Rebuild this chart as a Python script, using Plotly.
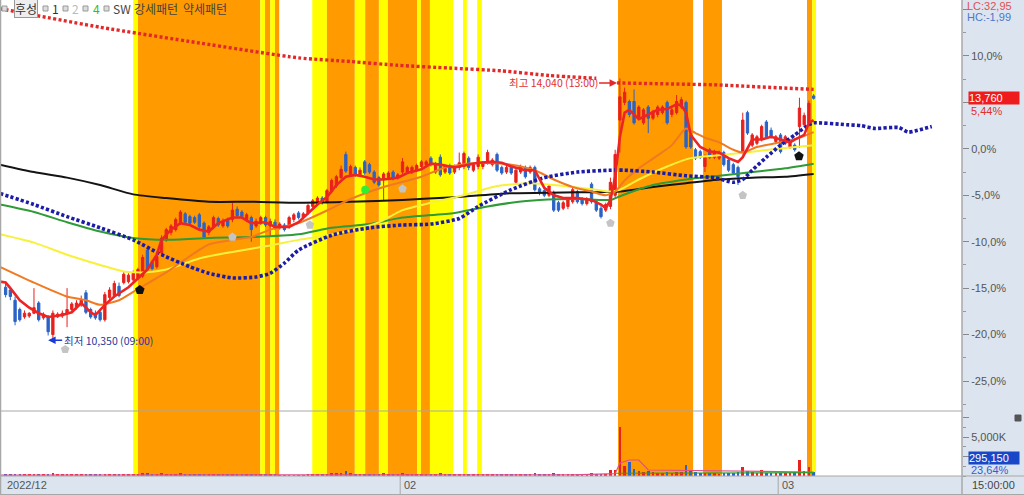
import plotly.graph_objects as go

# ---------------- data (values in % vs. reference price, 120-minute bars) ----------------
opens = [-14.9,-15.2,-16.3,-17.3,-18.1,-18.0,-17.7,-16.6,-18.2,-18.1,
 -20.0,-18.1,-18.0,-17.7,-17.3,-17.1,-16.8,-15.5,-17.3,-17.7,
 -17.6,-18.4,-16.0,-15.8,-14.8,-14.4,-14.3,-14.1,-13.9,-13.7,
 -10.9,-12.2,-12.7,-11.2,-9.8,-9.0,-8.7,-8.0,-7.0,-7.3,
 -7.4,-7.1,-8.0,-9.0,-8.4,-7.5,-8.3,-7.6,-7.6,-6.5,
 -6.8,-7.6,-7.4,-8.3,-8.0,-7.4,-8.3,-7.9,-8.5,-8.2,
 -8.4,-7.6,-6.9,-7.4,-6.9,-6.2,-5.9,-5.3,-5.7,-4.6,
 -4.0,-3.1,-0.6,-2.8,-2.0,-2.8,-1.4,-1.7,-2.5,-3.1,
 -3.3,-3.1,-2.5,-3.1,-2.5,-2.5,-2.5,-2.3,-1.9,-1.7,
 -1.0,-2.5,-0.9,-2.5,-1.8,-2.5,-2.0,-1.9,-1.0,-2.3,
 -1.9,-1.9,-1.5,-1.7,-0.6,-2.0,-2.5,-2.0,-3.6,-2.5,
 -2.0,-2.5,-2.0,-4.3,-4.5,-5.0,-4.7,-5.8,-6.4,-6.2,
 -5.7,-4.6,-5.4,-5.9,-3.8,-5.7,-6.4,-6.6,-6.2,-5.0,
 3.1,5.0,5.1,5.1,3.4,2.8,4.5,3.3,3.7,3.9,
 5.0,3.7,3.9,4.5,5.0,1.5,-0.1,-0.3,-1.9,-0.1,
 -0.9,-1.0,-0.4,-1.2,-1.7,-2.0,-0.4,3.9,0.4,0.6,
 1.0,2.9,2.0,0.8,1.5,0.6,0.2,0.4,2.4,2.6,
 2.8,5.7]
highs = [-14.4,-15.0,-15.9,-17.1,-17.4,-17.6,-15.0,-16.4,-17.6,-17.9,
 -17.4,-17.6,-17.4,-15.0,-16.5,-16.3,-15.8,-15.2,-17.1,-17.4,
 -17.3,-15.4,-14.9,-14.2,-14.4,-13.2,-13.4,-13.1,-12.8,-11.4,
 -10.7,-12.0,-11.4,-9.3,-8.5,-8.1,-7.4,-6.6,-6.8,-7.1,
 -7.2,-6.9,-7.8,-8.2,-7.2,-7.3,-7.5,-7.4,-5.8,-6.2,
 -6.6,-6.9,-7.2,-7.5,-7.2,-7.2,-7.5,-7.6,-7.9,-8.0,
 -7.2,-6.9,-6.7,-6.8,-5.9,-5.4,-5.1,-5.1,-4.3,-3.2,
 -2.8,-1.8,-0.3,-1.7,-1.8,-2.0,-1.2,-1.5,-2.3,-2.9,
 -2.5,-2.4,-2.3,-2.6,-1.0,-1.8,-1.8,-1.6,-1.2,-1.2,
 -0.8,-1.4,-0.6,-1.7,-1.6,-1.7,-0.4,-0.3,-0.8,-1.5,
 -0.6,-1.3,-0.1,-1.0,-0.4,-1.8,-1.8,-1.8,-2.0,-1.7,
 -1.8,-1.8,-1.8,-4.1,-4.3,-3.8,-4.5,-5.6,-5.6,-5.3,
 -4.2,-4.4,-5.2,-5.2,-3.6,-5.5,-6.1,-5.8,-3.1,-0.1,
 7.59,6.6,5.3,6.4,4.7,4.4,4.7,4.2,4.7,4.7,
 5.2,4.4,5.8,5.6,5.2,1.7,0.1,-0.1,-0.6,0.1,
 -0.1,-0.2,-0.2,-1.0,-1.5,-1.8,3.9,4.1,1.7,1.5,
 2.6,3.1,2.3,1.5,1.7,1.5,1.0,0.6,5.5,3.9,
 5.2,5.9]
lows = [-16.0,-16.3,-19.0,-18.6,-18.3,-18.2,-17.8,-18.6,-18.4,-20.1,
 -20.69,-18.2,-18.2,-19.2,-17.6,-17.3,-17.0,-17.8,-18.3,-18.4,
 -18.6,-18.6,-16.3,-16.0,-16.0,-14.6,-14.5,-14.3,-14.1,-13.9,
 -13.2,-13.1,-12.9,-11.4,-10.0,-9.3,-8.9,-8.2,-8.1,-8.2,
 -8.1,-8.6,-9.7,-9.3,-8.6,-8.4,-8.5,-8.5,-7.9,-7.4,
 -7.5,-7.9,-10.0,-8.5,-8.2,-8.4,-9.5,-8.7,-8.7,-8.9,
 -8.6,-7.9,-7.6,-7.6,-7.1,-6.5,-6.1,-6.0,-5.9,-4.8,
 -4.2,-3.3,-2.6,-3.0,-3.0,-3.0,-2.8,-2.7,-3.8,-4.1,
 -5.5,-3.3,-3.4,-3.3,-2.7,-2.7,-2.7,-2.5,-2.2,-1.9,
 -1.9,-2.7,-3.0,-2.7,-2.8,-2.7,-2.3,-2.2,-2.3,-2.5,
 -2.2,-2.2,-1.7,-1.9,-2.5,-2.8,-2.7,-2.8,-3.8,-2.7,
 -3.2,-2.7,-4.6,-5.0,-5.2,-5.2,-6.8,-6.8,-6.6,-6.5,
 -5.9,-5.9,-6.1,-6.1,-5.9,-6.8,-7.5,-6.8,-6.5,-5.3,
 -0.4,4.7,3.4,2.6,3.2,2.6,1.7,3.1,3.4,3.7,
 2.6,3.4,3.7,4.3,0.0,0.0,-1.2,-1.1,-2.5,-1.1,
 -1.1,-1.2,-1.9,-2.5,-2.8,-3.9,-0.6,1.5,0.2,0.4,
 0.8,1.1,1.1,0.5,-0.5,0.4,0.0,-0.3,0.1,2.4,
 2.6,5.3]
closes = [-15.7,-15.9,-18.6,-18.4,-17.7,-17.7,-17.1,-18.4,-17.8,-19.7,
 -17.7,-17.8,-17.7,-17.3,-16.7,-16.6,-16.3,-17.6,-18.1,-18.2,
 -18.4,-15.7,-15.2,-14.5,-15.8,-13.5,-13.6,-13.4,-13.0,-11.7,
 -13.0,-12.9,-11.6,-9.6,-8.7,-8.3,-7.6,-6.8,-7.9,-8.0,
 -7.9,-8.4,-9.5,-8.4,-7.4,-8.2,-7.8,-8.3,-6.6,-7.2,
 -7.3,-7.1,-8.7,-7.8,-7.4,-8.2,-7.8,-8.5,-8.1,-8.7,
 -7.4,-7.1,-7.4,-7.0,-6.1,-5.6,-5.3,-5.8,-4.5,-3.4,
 -3.0,-2.2,-2.4,-1.9,-2.8,-2.3,-2.6,-2.5,-3.6,-3.9,
 -2.7,-2.6,-3.2,-2.8,-1.4,-2.0,-2.0,-1.8,-1.4,-1.4,
 -1.7,-1.6,-2.8,-1.9,-2.6,-1.9,-1.5,-0.5,-2.0,-1.7,
 -0.9,-1.5,-0.4,-1.2,-2.3,-2.6,-2.0,-2.6,-2.3,-1.9,
 -3.0,-2.0,-4.4,-4.7,-5.0,-4.0,-6.6,-6.6,-5.8,-5.5,
 -4.4,-5.7,-5.9,-5.4,-5.7,-6.6,-7.3,-6.0,-3.6,-0.6,
 5.6,6.1,3.7,2.8,4.5,4.2,3.3,4.0,4.5,4.5,
 2.8,4.2,5.1,5.3,0.2,0.2,-1.0,-0.9,-0.9,-0.9,
 -0.3,-0.4,-1.7,-2.3,-2.6,-3.0,3.1,1.7,1.5,1.3,
 2.4,1.3,1.3,1.3,-0.3,1.3,0.8,-0.1,4.4,3.6,
 4.9,5.44]
volumes_k = [220,160,260,180,130,150,240,180,150,260,
 380,160,130,210,150,140,190,210,150,140,
 160,280,190,210,170,200,160,180,230,420,
 380,260,300,340,280,260,310,350,220,240,
 200,260,300,220,260,200,210,190,300,240,
 180,200,260,210,190,230,250,200,60,50,
 50,60,50,60,250,220,260,230,300,350,
 330,420,650,360,300,280,320,260,300,280,
 350,260,240,280,380,260,240,300,250,230,
 280,260,350,240,230,220,300,320,260,220,
 240,210,300,220,260,240,200,230,280,220,
 200,220,330,250,240,260,330,240,220,250,
 300,240,230,260,330,260,300,280,750,800,
 6300,1300,1800,900,600,500,700,450,400,380,
 500,420,550,480,1400,650,500,420,380,350,
 330,300,350,380,400,450,1150,700,450,380,
 770,420,380,350,400,380,420,450,2050,700,
 1150,500]

# moving averages / indicator lines (bar index, value in %)
ma_long_idx = [-1.2,6,13,20,27,34,43,52,62,73,84,95,106,118,130,137,144,151,158,165,171]
ma_long_val = [-1.7,-2.5,-3.1,-3.9,-4.9,-5.3,-5.7,-5.7,-5.8,-5.7,-5.5,-5.2,-4.8,-4.7,-4.6,-4.1,-3.7,-3.3,-3.1,-3.0,-2.7]
ma_green_idx = [-1.2,6,13,20,27,34,43,52,62,69,77,84,95,102,107,113,121,128,130,137,144,151,158,165,171]
ma_green_val = [-6.0,-6.8,-7.9,-8.9,-9.6,-9.8,-9.6,-9.5,-9.2,-8.5,-8.1,-7.4,-6.9,-6.2,-5.8,-5.5,-5.4,-5.5,-5.1,-3.9,-3.3,-2.9,-2.5,-2.1,-1.6]
ma_yellow_idx = [-1.2,6,13,20,25,30,34,41,48,56,62,67,73,79,84,90,97,104,111,118,125,128,130,134,140,145,151,158,165,171]
ma_yellow_val = [-9.2,-10.1,-11.4,-12.5,-13.2,-13.3,-13.0,-11.8,-11.1,-10.4,-9.8,-9.4,-8.8,-7.9,-6.6,-5.8,-5.0,-4.0,-3.7,-4.0,-4.4,-4.6,-4.4,-3.3,-1.9,-1.0,-0.7,-0.3,0.1,0.4]
ma_orange_idx = [-1.2,6,13,17,20,24,27,34,38,43,48,52,56,62,69,73,80,88,93,100,107,112,116,120,124,127,129,131,134,138,141,143,144,146,148,151,154,156,159,164,168,171]
ma_orange_val = [-12.7,-14.4,-15.9,-16.3,-16.8,-16.3,-15.4,-13.3,-11.9,-10.3,-9.8,-9.5,-8.7,-8.0,-6.4,-5.4,-4.1,-3.0,-2.0,-1.5,-1.7,-2.3,-3.3,-4.1,-4.6,-5.0,-4.6,-3.4,-2.1,-0.7,0.4,1.7,2.2,1.7,1.2,0.7,-0.1,-0.4,0.2,0.7,1.2,1.8]
ma_red_idx = [-1.2,0,1,3,5,7,9,12,14,16,18,19,21,23,26,28,30,32,33,35,37,39,41,43,45,48,50,52,55,57,60,62,64,66,68,70,72,74,76,78,80,83,85,88,90,92,95,98,100,103,105,107,110,112,113,114,116,118,121,124,126,127,128,129,130,131,132,134,136,138,140,142,143,144,145,147,149,151,153,155,156,157,158,160,162,164,166,167,169,170,171]
ma_red_val = [-14.3,-14.4,-15.0,-16.3,-17.1,-17.7,-18.1,-17.9,-17.6,-16.6,-17.6,-17.9,-16.8,-15.9,-14.9,-13.9,-13.0,-11.4,-9.8,-8.7,-8.0,-8.2,-8.7,-8.9,-8.0,-7.4,-7.4,-8.0,-7.9,-8.4,-8.4,-7.9,-6.9,-6.0,-5.2,-3.9,-3.0,-2.8,-3.0,-3.3,-3.3,-3.1,-2.6,-2.2,-1.6,-1.7,-2.0,-1.7,-1.5,-1.4,-1.5,-1.9,-2.3,-2.3,-3.3,-4.2,-5.0,-5.3,-5.3,-5.5,-6.0,-6.4,-5.5,-3.0,1.3,3.9,4.2,3.2,3.7,4.2,4.3,4.8,4.7,3.9,1.5,0.2,-0.3,-0.4,-1.0,-1.4,-0.9,0.1,1.0,1.0,1.3,1.0,0.7,1.0,1.5,2.8,3.1]
blue_dot_idx = [-1.2,6,13,20,27,33,39,43,48,53,56,59,62,69,77,84,90,96,100,107,114,121,128,131,137,144,150,154,156,158,161,164,167,170,171,178,181,184,189,191,193,196]
blue_dot_val = [-4.8,-6.0,-7.3,-8.5,-9.8,-11.4,-12.7,-13.4,-13.9,-13.8,-13.4,-12.3,-10.9,-9.3,-8.5,-8.2,-8.1,-7.5,-6.2,-4.4,-3.1,-2.5,-2.3,-2.3,-2.5,-2.9,-3.1,-3.6,-3.3,-2.3,-0.9,0.4,1.5,2.6,2.8,2.6,2.5,2.2,2.3,1.8,2.0,2.4]
red_dot_idx = [-1.2,20,41,62,73,83,94,105,115,125]
red_dot_val = [15.1,13.1,11.4,9.8,9.4,9.0,8.7,8.4,7.9,7.6]
high_line_idx = [129.4,150,171]
high_line_val = [7.1,6.9,6.4]

vol_ma_idx = [-1, 60, 120, 129, 130, 132, 134, 136, 171]
vol_ma_val = [120, 100, 150, 300, 1670, 2050, 2050, 770, 500]
vol_ma2_idx = [129, 171]
vol_ma2_val = [350, 420]

# signal markers
gray_sig_idx = [12.6, 48, 64.4, 84, 128, 156]
gray_sig_val = [-21.6, -9.5, -8.2, -4.3, -8.0, -5.0]
black_sig_idx = [28.4, 167.9]
black_sig_val = [-15.2, -0.8]
green_sig_idx = [76.1]
green_sig_val = [-4.4]

# background pattern bands (bar index ranges)
band_start = [27.0, 28.0, 53.9, 54.9, 56.0, 57.0, 64.9, 68.0, 73.9, 76.1, 79.0, 80.9, 87.1, 87.9, 89.8, 96.8, 99.8, 129.6, 147.6, 169.6, 170.7]
band_end = [28.0, 53.9, 54.9, 56.0, 57.0, 57.9, 68.0, 73.9, 76.1, 79.0, 80.9, 87.1, 87.9, 89.8, 94.7, 97.6, 100.8, 145.5, 151.6, 170.7, 171.5]
band_kind = ['Y','O','Y','O','Y','O','Y','O','Y','O','Y','O','Y','O','Y','Y','Y','O','O','O','Y']

month_start = [0, 84, 164]
month_label = ["2022/12", "02", "03"]

y_tick_vals = [15, 10, 5, 0, -5, -10, -15, -20, -25]
y_tick_text = ["", "10,0%", "", "0,0%", "-5,0%", "-10,0%", "-15,0%", "-20,0%", "-25,0%"]

low_label = "최저 10,350 (09:00)"
low_point = (9.0, -20.6)
high_label = "최고 14,040 (13:00)"
high_point = (129.4, 7.1)
last_price_label = "13,760"
last_pct_label = "5,44%"
last_vol_label = "295,150"
last_vol_pct_label = "23,64%"

# ---------------- layout helpers ----------------
PW, PH = 962, 476
def px(x):
    return x / PW
def py(y):
    return (PH - y) / PH

RED = '#e8211d'
BLUE = '#2b63c6'
ORANGE_BAND = '#ff9a00'
YELLOW_BAND = '#ffff00'
KR = 'Noto Sans CJK KR'
LAT = 'Liberation Sans'

x_idx = list(range(len(closes)))
fig = go.Figure()

# candles
fig.add_trace(go.Candlestick(
    x=x_idx, open=opens, high=highs, low=lows, close=closes,
    increasing=dict(line=dict(color=RED, width=1), fillcolor=RED),
    decreasing=dict(line=dict(color=BLUE, width=1), fillcolor=BLUE),
    whiskerwidth=0, hoverinfo='skip', yaxis='y'))

def add_line(xs, ys, color, width, dash=None, shape='spline', yaxis='y'):
    fig.add_trace(go.Scatter(x=xs, y=ys, mode='lines', yaxis=yaxis, hoverinfo='skip',
                             line=dict(color=color, width=width, dash=dash, shape=shape,
                                       smoothing=0.6 if shape == 'spline' else None)))

add_line(ma_long_idx, ma_long_val, '#141414', 2)
add_line(ma_green_idx, ma_green_val, '#2f9a36', 2)
add_line(ma_yellow_idx, ma_yellow_val, '#f7f13c', 2)
add_line(ma_orange_idx, ma_orange_val, '#f07a22', 2)
add_line(blue_dot_idx, blue_dot_val, '#1c1ca8', 3.6, dash='3.2px,2.2px')
add_line(red_dot_idx, red_dot_val, '#e22828', 3.4, dash='3px,2.4px')
add_line(high_line_idx, high_line_val, '#e22828', 3.4, dash='3px,2.4px', shape='linear')
add_line(ma_red_idx, ma_red_val, '#ec2424', 2.6, shape='linear')

# signals
fig.add_trace(go.Scatter(x=gray_sig_idx, y=gray_sig_val, mode='markers', hoverinfo='skip',
                         marker=dict(symbol='pentagon', size=9, color='#c4c4c4')))
fig.add_trace(go.Scatter(x=black_sig_idx, y=black_sig_val, mode='markers', hoverinfo='skip',
                         marker=dict(symbol='pentagon', size=10, color='#111111')))
fig.add_trace(go.Scatter(x=green_sig_idx, y=green_sig_val, mode='markers', hoverinfo='skip',
                         marker=dict(symbol='circle', size=8, color='#33ee33')))

# volume
vol_colors = [RED if c >= o else BLUE for o, c in zip(opens, closes)]
fig.add_trace(go.Bar(x=x_idx, y=volumes_k, marker=dict(color=vol_colors, line=dict(width=0)),
                     width=0.55, yaxis='y2', hoverinfo='skip'))
add_line(vol_ma_idx, vol_ma_val, '#e0508a', 1.2, shape='linear', yaxis='y2')
add_line(vol_ma2_idx, vol_ma2_val, '#30a030', 1.2, shape='linear', yaxis='y2')

# shapes
shapes = []
for s, e, k in zip(band_start, band_end, band_kind):
    shapes.append(dict(type='rect', xref='x', yref='paper', x0=s, x1=e, y0=0, y1=1,
                       fillcolor=ORANGE_BAND if k == 'O' else YELLOW_BAND,
                       line=dict(width=0), layer='below'))
GRAY = '#a8a8a8'
shapes += [
    dict(type='line', xref='paper', yref='paper', x0=0, x1=1, y0=py(411), y1=py(411), line=dict(color=GRAY, width=1)),
    dict(type='line', xref='paper', yref='paper', x0=0, x1=1.07, y0=py(476), y1=py(476), line=dict(color=GRAY, width=1)),
    dict(type='line', xref='paper', yref='paper', x0=0, x1=1.07, y0=py(494.5), y1=py(494.5), line=dict(color=GRAY, width=1)),
    dict(type='line', xref='paper', yref='paper', x0=px(0.5), x1=px(0.5), y0=py(495), y1=1, line=dict(color=GRAY, width=1.5)),
    dict(type='line', xref='paper', yref='paper', x0=1, x1=1, y0=py(495), y1=1, line=dict(color=GRAY, width=1.5)),
    dict(type='rect', xref='paper', yref='paper', x0=px(1015), x1=px(1021), y0=py(421), y1=py(415),
         fillcolor='#555555', line=dict(color='#555555', width=1)),
]
for m in month_start[1:]:
    shapes.append(dict(type='line', xref='x', yref='paper', x0=m - 0.5, x1=m - 0.5, y0=py(494), y1=py(476),
                       line=dict(color=GRAY, width=1)))
# legend checkboxes
for cx in [2, 43, 63, 83, 104]:
    shapes.append(dict(type='rect', xref='paper', yref='paper', x0=px(cx), x1=px(cx + 5), y0=py(11), y1=py(6),
                       fillcolor='#dddddd', line=dict(color='#999999', width=1)))

annotations = []
for m, lab in zip(month_start, month_label):
    annotations.append(dict(xref='x', yref='paper', x=m - 0.5, y=py(485.5), text=lab, showarrow=False,
                            xanchor='left', yanchor='middle', xshift=2, font=dict(family=LAT, size=11, color='#555555')))
annotations.append(dict(xref='paper', yref='paper', x=px(970), y=py(485.5), text='15:00:00', showarrow=False,
                        xanchor='left', yanchor='middle', font=dict(family=LAT, size=11, color='#444444')))
annotations += [
    dict(xref='paper', yref='paper', x=px(965), y=py(6), text='LC:32,95', showarrow=False, xanchor='left',
         yanchor='middle', font=dict(family=LAT, size=11, color='#e05050')),
    dict(xref='paper', yref='paper', x=px(965), y=py(17.5), text='HC:-1,99', showarrow=False, xanchor='left',
         yanchor='middle', font=dict(family=LAT, size=11, color='#4a78cc')),
    dict(xref='paper', yref='y', x=px(968), y=closes[-1], text=last_price_label, showarrow=False, xanchor='left',
         yanchor='middle', bgcolor='#ee1c1c', width=50, height=12, align='left', borderpad=0,
         font=dict(family=LAT, size=11, color='white')),
    dict(xref='paper', yref='y', x=px(969), y=closes[-1], yshift=-13, text=last_pct_label, showarrow=False,
         xanchor='left', yanchor='middle', font=dict(family=LAT, size=11, color='#e03030')),
    dict(xref='paper', yref='paper', x=px(968), y=py(458), text=last_vol_label, showarrow=False, xanchor='left',
         yanchor='middle', bgcolor='#1848c8', width=50, height=12, align='left', borderpad=0,
         font=dict(family=LAT, size=11, color='white')),
    dict(xref='paper', yref='paper', x=px(969), y=py(470), text=last_vol_pct_label, showarrow=False,
         xanchor='left', yanchor='middle', font=dict(family=LAT, size=11, color='#3060d0')),
    dict(xref='x', yref='y', x=low_point[0], y=low_point[1], text=low_label, showarrow=True, ax=60, ay=0,
         arrowhead=2, arrowsize=1, arrowwidth=1.5, arrowcolor='#1a3ad8',
         font=dict(family=KR, size=10.5, color='#28389a')),
    dict(xref='x', yref='y', x=high_point[0], y=high_point[1], text=high_label, showarrow=True, ax=-64, ay=0,
         arrowhead=2, arrowsize=1, arrowwidth=1.5, arrowcolor='#e22828',
         font=dict(family=KR, size=10.5, color='#e03030')),
]
# top-left legend
legend_items = [("후성", 14, '#333333'), ("1", 51, '#333333'), ("2", 71, '#bbbbbb'), ("4", 92, '#33bb33'),
                ("SW", 112, '#444444'), ("강세패턴", 133, '#444444'), ("약세패턴", 182, '#444444')]
for t, lx, col in legend_items:
    a = dict(xref='paper', yref='paper', x=px(lx), y=py(8.5), text=t, showarrow=False, xanchor='left',
             yanchor='middle', font=dict(family=KR, size=12, color=col), borderpad=0)
    if t == "후성":
        a.update(bgcolor='#eeeeee', bordercolor='#999999', borderwidth=1)
    annotations.append(a)

fig.update_layout(
    width=1024, height=495,
    margin=dict(l=0, r=62, t=0, b=19),
    paper_bgcolor='#dce4ef', plot_bgcolor='#ffffff',
    showlegend=False, hovermode=False, bargap=0,
    shapes=shapes, annotations=annotations,
    xaxis=dict(range=[-1.19, 202.4], showticklabels=False, showgrid=False, zeroline=False,
               ticks='', showline=False, rangeslider=dict(visible=False), fixedrange=True),
    yaxis=dict(domain=[py(411), 1], range=[-28.23, 16.03], side='right', anchor='x',
               tickmode='array', tickvals=y_tick_vals, ticktext=y_tick_text,
               ticks='outside', ticklen=6, tickcolor='#888888', tickwidth=1,
               minor=dict(dtick=2.5, tick0=0, ticks='outside', ticklen=3, tickcolor='#999999'),
               showgrid=False, zeroline=False, showline=False,
               tickfont=dict(family=LAT, size=11, color='#555555')),
    yaxis2=dict(domain=[0, py(411)], range=[0, 8333], side='right', anchor='x',
                tickmode='array', tickvals=[2500, 5000, 7500], ticktext=['', '5,000K', ''],
                ticks='outside', ticklen=6, tickcolor='#888888',
                minor=dict(dtick=1250, tick0=0, ticks='outside', ticklen=3, tickcolor='#999999'),
                showgrid=False, zeroline=False, showline=False,
                tickfont=dict(family=LAT, size=11, color='#555555')),
)

fig.write_html("out.html", config={'displayModeBar': False},
               post_script="document.body.style.margin='0';document.body.style.overflow='hidden';")
